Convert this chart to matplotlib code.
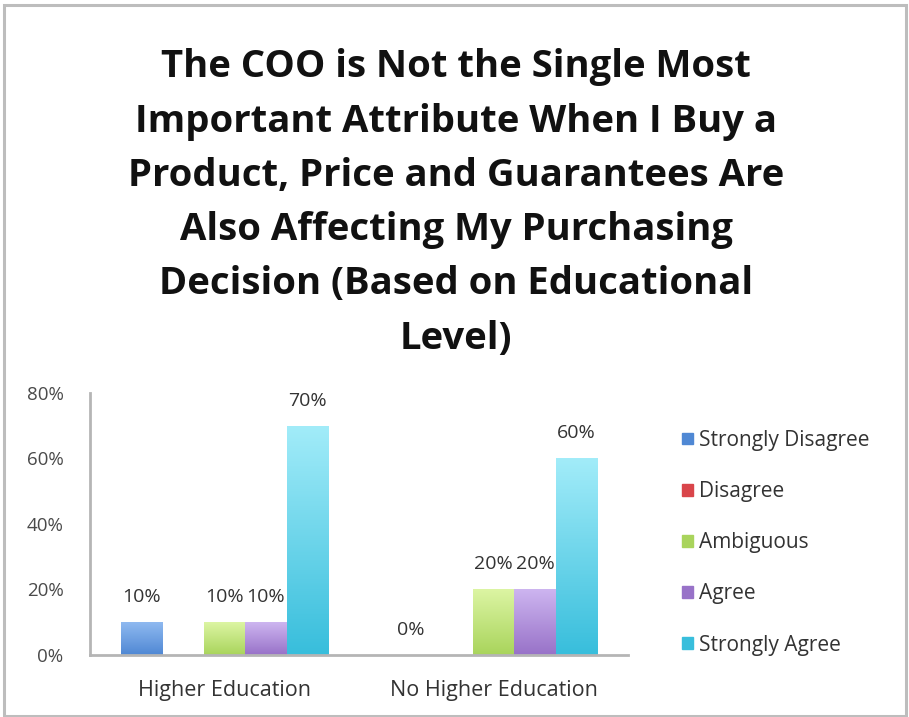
import numpy as np
import matplotlib
matplotlib.use("Agg")
import matplotlib.pyplot as plt
from matplotlib.colors import LinearSegmentedColormap
from matplotlib.patches import Rectangle

plt.rcParams['font.family'] = ['Open Sans', 'DejaVu Sans']

title = ("The COO is Not the Single Most\nImportant Attribute When I Buy a\n"
         "Product, Price and Guarantees Are\nAlso Affecting My Purchasing\n"
         "Decision (Based on Educational\nLevel)")

groups = ["Higher Education", "No Higher Education"]
series = ["Strongly Disagree", "Disagree", "Ambiguous", "Agree", "Strongly Agree"]

strongly_disagree = [0.10, 0.00]
disagree = [np.nan, np.nan]
ambiguous = [0.10, 0.20]
agree = [0.10, 0.20]
strongly_agree = [0.70, 0.60]

yticks = [0.0, 0.2, 0.4, 0.6, 0.8]
ytick_labels = ["0%", "20%", "40%", "60%", "80%"]

# (top, bottom) gradient colours for each series
grad_colors = [
    ("#8fb9f0", "#4f88d4"),
    ("#f07a7c", "#d9454a"),
    ("#dcf5a3", "#a9d45c"),
    ("#cdb5f0", "#9872c8"),
    ("#a2ecf9", "#38bedc"),
]

values = [strongly_disagree, disagree, ambiguous, agree, strongly_agree]

fig = plt.figure(figsize=(9.09, 7.17), dpi=100)
fig.patch.set_facecolor("white")

# outer frame
fig.add_artist(Rectangle((0.004, 0.002), 0.993, 0.991, transform=fig.transFigure,
                         fill=False, edgecolor="#bdbdbd", linewidth=2.2))

fig.text(0.502, 0.717, title, ha="center", va="center", fontsize=27.5,
         fontweight="bold", linespacing=1.56, color="#111111")

ax = fig.add_axes([0.099, 0.0865, 0.592, 0.3655])
x = np.arange(len(groups))
width = 0.154
offsets = (np.arange(len(series)) - 2) * width

handles = []
for i, (name, vals) in enumerate(zip(series, values)):
    top, bot = grad_colors[i]
    cmap = LinearSegmentedColormap.from_list(name, [bot, top])
    bars = ax.bar(x + offsets[i], vals, width, color=top, linewidth=0, label=name)
    handles.append(Rectangle((0, 0), 1, 1, color=bot))
    for b, v in zip(bars, vals):
        if np.isnan(v):
            continue
        h = b.get_height()
        if h > 0:
            b.set_facecolor("none")
            grad = np.linspace(0, 1, 100).reshape(-1, 1)
            im = ax.imshow(grad, cmap=cmap, origin="lower", aspect="auto",
                           extent=[b.get_x(), b.get_x() + b.get_width(), 0, h],
                           zorder=2)
            im.set_clip_path(b)
        ax.annotate(f"{v*100:.0f}%", (b.get_x() + b.get_width() / 2, h),
                    xytext=(0, 18), textcoords="offset points", ha="center",
                    va="center", fontsize=14, color="#333333")

ax.set_xlim(-0.5, 1.5)
ax.set_ylim(0, 0.8)
ax.set_yticks(yticks)
ax.set_yticklabels(ytick_labels)
ax.set_xticks(x)
ax.set_xticklabels(groups)
ax.tick_params(axis="y", length=0, pad=19, labelsize=13.5, labelcolor="#4a4a4a")
ax.tick_params(axis="x", length=0, pad=18, labelsize=15.5, labelcolor="#333333")
for s in ["top", "right"]:
    ax.spines[s].set_visible(False)
for s in ["left", "bottom"]:
    ax.spines[s].set_color("#b5b5b5")
    ax.spines[s].set_linewidth(2)

fig.legend(handles, series, loc="center left", bbox_to_anchor=(0.739, 0.243),
           frameon=False, fontsize=15, handlelength=0.5, handleheight=0.5,
           handletextpad=0.3, labelspacing=1.45, borderpad=0,
           labelcolor="#333333")

fig.savefig("out.png", dpi=100, facecolor="white")
